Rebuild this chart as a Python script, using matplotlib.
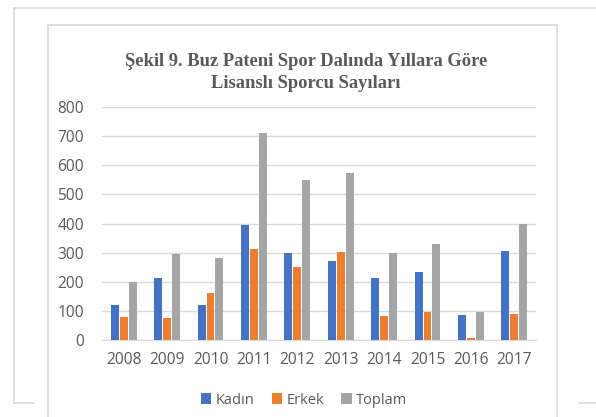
import numpy as np
import matplotlib
matplotlib.use("Agg")
from matplotlib import pyplot as plt
from matplotlib.lines import Line2D

# Data
years = ["2008", "2009", "2010", "2011", "2012", "2013", "2014", "2015", "2016", "2017"]
kadin = [120, 213, 120, 395, 298, 270, 212, 232, 86, 307]
erkek = [80, 76, 160, 312, 250, 303, 82, 96, 8, 89]
toplam = [200, 295, 282, 711, 550, 574, 297, 330, 96, 398]

W, H = 596, 417
fig = plt.figure(figsize=(W / 100, H / 100), dpi=100)
ax = fig.add_axes([102 / W, 1 - 340 / H, 434 / W, 233 / H])

def fx(px):
    return px / W

def fy(py):
    return 1 - py / H

# page frames (light grey)
frame_col = "#d9d9d9"
for xs, ys in [((14, 596), (7.5, 7.5)), ((14, 14), (7.5, 403)), ((14, 34), (403, 403)),
               ((580, 596), (403, 403)),
               ((48, 556.5), (25, 25)), ((48, 48), (25, 417)), ((556.5, 556.5), (25, 417))]:
    fig.add_artist(Line2D([fx(x) for x in xs], [fy(y) for y in ys], color=frame_col, lw=1.2))

x = np.arange(len(years))
w = 0.18
step = 0.205
ax.bar(x - step, kadin, w, color="#4472C4", label="Kadın", zorder=3)
ax.bar(x, erkek, w, color="#ED7D31", label="Erkek", zorder=3)
ax.bar(x + step, toplam, w, color="#A5A5A5", label="Toplam", zorder=3)

ax.set_xlim(-0.5, len(years) - 0.5)
ax.set_ylim(0, 800)
ax.set_yticks(range(0, 801, 100))
ax.set_xticks(x)
ax.set_xticklabels(years)
ax.grid(axis="y", color="#d9d9d9", lw=1, zorder=0)
for s in ["top", "right", "left"]:
    ax.spines[s].set_visible(False)
ax.spines["bottom"].set_color("#d9d9d9")
ax.tick_params(axis="y", length=0, labelsize=11.2, colors="#595959", pad=13)
ax.tick_params(axis="x", length=0, labelsize=11.2, colors="#595959", pad=9)
for lab in ax.get_xticklabels() + ax.get_yticklabels():
    lab.set_fontfamily("Open Sans")

fig.text(fx(306), fy(72.5), "Şekil 9. Buz Pateni Spor Dalında Yıllara Göre\nLisanslı Sporcu Sayıları",
         ha="center", va="center", fontsize=13.3, fontweight="bold", family="Liberation Serif",
         color="#595959", linespacing=1.4)

fig.legend(loc="center", bbox_to_anchor=(fx(304), fy(400)), ncol=3, frameon=False,
           prop={"family": "Open Sans", "size": 10.5}, labelcolor="#595959",
           handlelength=0.7, handleheight=0.7, handletextpad=0.3, columnspacing=1.2)

fig.savefig("out.png", dpi=100)
